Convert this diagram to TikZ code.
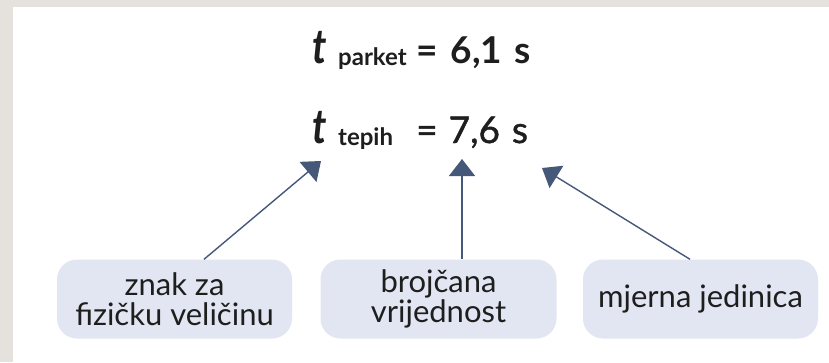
\documentclass[tikz,border=0pt]{standalone}
\usepackage{fontspec}
\setmainfont{Lato}
\usepackage{graphicx}
\usetikzlibrary{arrows.meta}
\definecolor{bg}{HTML}{E5E2DE}
\definecolor{boxfill}{HTML}{E2E6F2}
\definecolor{arr}{HTML}{45587A}
\definecolor{txt}{HTML}{1E1E1E}
\tikzset{
  lbl/.style={fill=boxfill, rounded corners=20pt, minimum height=79pt, inner sep=0pt,
    text=txt, align=center, font=\fontsize{31}{30}\selectfont},
  conn/.style={draw=arr, line width=1.4pt, -{Triangle[width=26pt,length=17pt]}},
  eq/.style={anchor=base west, inner sep=0pt, text=txt},
  sym/.style={eq, font=\fontsize{48}{48}\selectfont\bfseries\itshape},
  sub/.style={eq, font=\fontsize{24}{24}\selectfont\bfseries},
}
\begin{document}
\begin{tikzpicture}[x=1pt,y=-1pt]
\useasboundingbox (0,0) rectangle (829,362);
\fill[bg] (0,0) rectangle (829,362);
\fill[white] (13,7) rectangle (829,362);
% equations
\node[sym] (t1) at (312,63) {\scalebox{0.82}[1]{t}};
\node[sub] (s1) at (338,65) {parket};
\node[eq, font=\fontsize{37}{37}\selectfont\bfseries] (v1) at (416,63) {=\hspace{13pt}6,1\hspace{12pt}s};
\node[sym] (t2) at (312,143) {\scalebox{0.82}[1]{t}};
\node[sub] (s2) at (338,145) {tepih};
\node[eq, font=\fontsize{37}{37}\selectfont\addfontfeature{FakeBold=1.2}] (v2) at (416,143) {=\hspace{11pt}7,6\hspace{12pt}s};
% boxes
\node[lbl, minimum width=235pt] (b1) at (174.5,299) {znak za\\fizičku veličinu};
\node[lbl, minimum width=236pt] (b2) at (438.5,299) {brojčana\\vrijednost};
\node[lbl, minimum width=235pt] (b3) at (700.5,299) {mjerna jedinica};
% arrow ends
\coordinate (e1) at (321,161);
\coordinate (e2) at (462,159);
\coordinate (e3) at (542,168);
\draw[conn] (b1.north -| 204,0) -- (e1);
\draw[conn] (b2.north -| 462,0) -- (e2);
\draw[conn] (b3.north -| 690,0) -- (e3);
\end{tikzpicture}
\end{document}
